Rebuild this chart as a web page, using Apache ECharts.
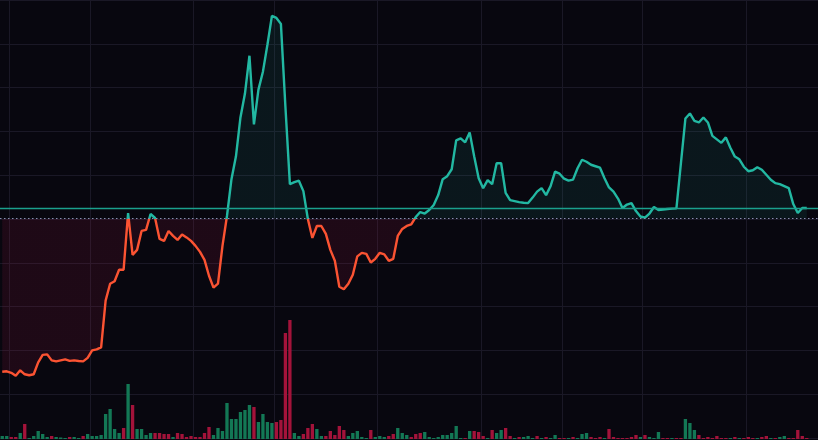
<!DOCTYPE html>
<html>
<head>
<meta charset="utf-8">
<script src="https://cdn.jsdelivr.net/npm/echarts@6/dist/echarts.min.js"></script>
<style>
html,body{margin:0;padding:0;background:#08070f;}
#c{width:818px;height:440px;}
</style>
</head>
<body>
<div id="c"></div>
<script>
// ---- data ----
const categories = [];
for (let i = 0; i < 182; i++) categories.push(String(i));

const price = [
  66.5,67,65.5,62.5,68,64,63,64,76,83.5,
  84,78,77,78,79,77.5,78,77.3,77,80.5,
  88,89,91,138,155,157.5,169,169,226,184,
  189,208,209,225,221,200,198,208,203,199,
  204.5,201.5,198,193,187,179,163,151,155,193,
  223,260,283,322,346,384,315,350,368,395,
  424,422,416,333,255,257,258.5,248,220,201,
  213,213,205,189,178,152,149.5,155,164,182.5,
  186,185,176.3,180,186,184.5,178,180,203,210,
  213,214.5,222,227,225.5,229,234,244,260,263,
  270,299,301,297,307,283,261,251,259,255,
  276,276,246.3,239,238,237,236.3,236,241.5,247.5,
  251,244,253,267.5,265.5,260.5,258.5,259.5,271,279.5,
  277.5,274.5,273,271.5,261,251.7,247.5,240.5,231,234.5,
  236,228,222.5,221.3,225.5,232,229,229.5,230,230.4,
  230.7,276,321,326,318.5,317,322,317,303.5,300,
  296.5,302,291.5,282.7,280,272.5,268,269,272,269.5,
  264.5,259.5,256,255,253,251,235,226,231,231
];

const volume = [
  3,3,2,2,6,15,1,3,8,5,
  2,3,2,1.5,1,2,2,1,3,5,
  3,3,4,25,30,10,6,11,55,34,
  10,10,4,6,6,6,5,5,2,6,
  5,2,3,2,2,6,12,4,11,8,
  36,20,20,27,29,34,32,17,25,17,
  16,17,19,106,119,6,3,5,11,15,
  10,3,3,8,4,13,9,3,6,8,
  2,1,9,2,3,2,3,5,11,6,
  4,2,5,6,7,2,1,2,4,4,
  6,13,1,1,8,8,7,3,1,9,
  6,9,11,3,1,2,2,3,1,3,
  1,2,1,4,1,1,1,2,1,5,
  6,2,1,2,1,10,2,1,1,1,
  2,4,2,4,2,1,7,1,1,1,
  1,1,20,16,9,4,1,2,1,3,
  1,1,1,2,1,1,2,1,1,2,
  3,1,1,2,3,1,1,9,3,1
];

// 1 = up (green), 0 = down (red)
const volumeUp = [
  1,1,0,0,1,0,1,1,1,1,
  1,0,1,1,1,0,1,1,0,1,
  1,1,1,1,1,1,1,0,1,0,
  1,1,1,1,0,0,0,0,1,0,
  0,0,0,0,0,0,0,1,1,1,
  1,1,1,1,1,1,0,1,1,1,
  1,0,0,0,0,1,1,0,0,0,
  1,1,0,0,0,0,0,1,1,1,
  1,1,0,1,1,1,0,0,1,1,
  1,0,0,0,1,1,1,1,1,1,
  1,1,1,0,1,0,0,0,1,0,
  1,1,0,0,1,0,1,1,1,0,
  1,0,1,1,0,0,1,0,1,1,
  1,0,0,0,1,0,0,0,0,0,
  0,0,1,0,1,1,1,0,0,1,
  0,0,1,1,1,0,0,0,0,0,
  0,0,1,0,1,0,0,0,1,0,
  0,1,0,1,1,0,0,0,0,0
];

const baseline = 220.5;
const gridLineIdx = [2,20,43,61,84,107,125,143,166];
const priceMin = 0, priceMax = 440, priceStep = 44;

// ---- styles ----
const UP_LINE = '#22b8a2';
const DOWN_LINE = '#fb5332';
const UP_AREA = 'rgba(34,184,162,0.09)';
const DOWN_AREA = 'rgba(190,25,75,0.12)';
const UP_VOL = '#137855';
const DOWN_VOL = '#a3133a';
const GRID = '#1a1826';

const lastPrice = price[price.length - 1];
const volData = volume.map((v, i) => ({
  value: v,
  itemStyle: { color: volumeUp[i] ? UP_VOL : DOWN_VOL }
}));
const gridSet = new Set(gridLineIdx);

const chart = echarts.init(document.getElementById('c'), null, { renderer: 'canvas' });
chart.setOption({
  backgroundColor: '#08070f',
  animation: false,
  grid: [
    { left: 0, right: 0, top: -2, bottom: 2 },
    { left: 0, right: 0, top: 240, bottom: 1 }
  ],
  xAxis: [
    {
      type: 'category', gridIndex: 0, data: categories, boundaryGap: true,
      axisLine: { show: false }, axisTick: { show: false }, axisLabel: { show: false },
      splitLine: { show: true, interval: (idx) => gridSet.has(idx), lineStyle: { color: GRID, width: 1 } }
    },
    {
      type: 'category', gridIndex: 1, data: categories, boundaryGap: true,
      axisLine: { show: false }, axisTick: { show: false }, axisLabel: { show: false },
      splitLine: { show: false }
    }
  ],
  yAxis: [
    {
      type: 'value', gridIndex: 0, min: priceMin, max: priceMax, interval: priceStep,
      axisLine: { show: false }, axisTick: { show: false }, axisLabel: { show: false },
      splitLine: { show: true, lineStyle: { color: GRID, width: 1 } }
    },
    {
      type: 'value', gridIndex: 1, min: 0, max: 199,
      axisLine: { show: false }, axisTick: { show: false }, axisLabel: { show: false },
      splitLine: { show: false }
    }
  ],
  series: [
    {
      type: 'bar', xAxisIndex: 1, yAxisIndex: 1, data: volData,
      barCategoryGap: '26%', z: 1
    },
    {
      type: 'line', xAxisIndex: 0, yAxisIndex: 0, data: price,
      symbol: 'none', lineStyle: { width: 2.4, color: UP_LINE }, z: 3,
      areaStyle: { origin: baseline },
      markLine: {
        silent: true, symbol: 'none', label: { show: false },
        data: [
          { yAxis: lastPrice, lineStyle: { color: '#1aa08d', width: 1.3, type: 'solid' } },
          { yAxis: baseline, lineStyle: { color: '#8a8db0', width: 1, type: [1.5, 2.5] } }
        ]
      }
    }
  ]
});

// split colours at the baseline, located through the axis scale
const by = chart.convertToPixel({ yAxisIndex: 0 }, baseline);
const H = 440;
const t = Math.min(1, Math.max(0, by / H));
function split(top, bottom) {
  return new echarts.graphic.LinearGradient(0, 0, 0, H, [
    { offset: 0, color: top }, { offset: t, color: top },
    { offset: t, color: bottom }, { offset: 1, color: bottom }
  ], true);
}
chart.setOption({
  series: [
    {},
    {
      lineStyle: { color: split(UP_LINE, DOWN_LINE) },
      areaStyle: { origin: baseline, color: split(UP_AREA, DOWN_AREA), opacity: 1 }
    }
  ]
});
</script>
</body>
</html>
